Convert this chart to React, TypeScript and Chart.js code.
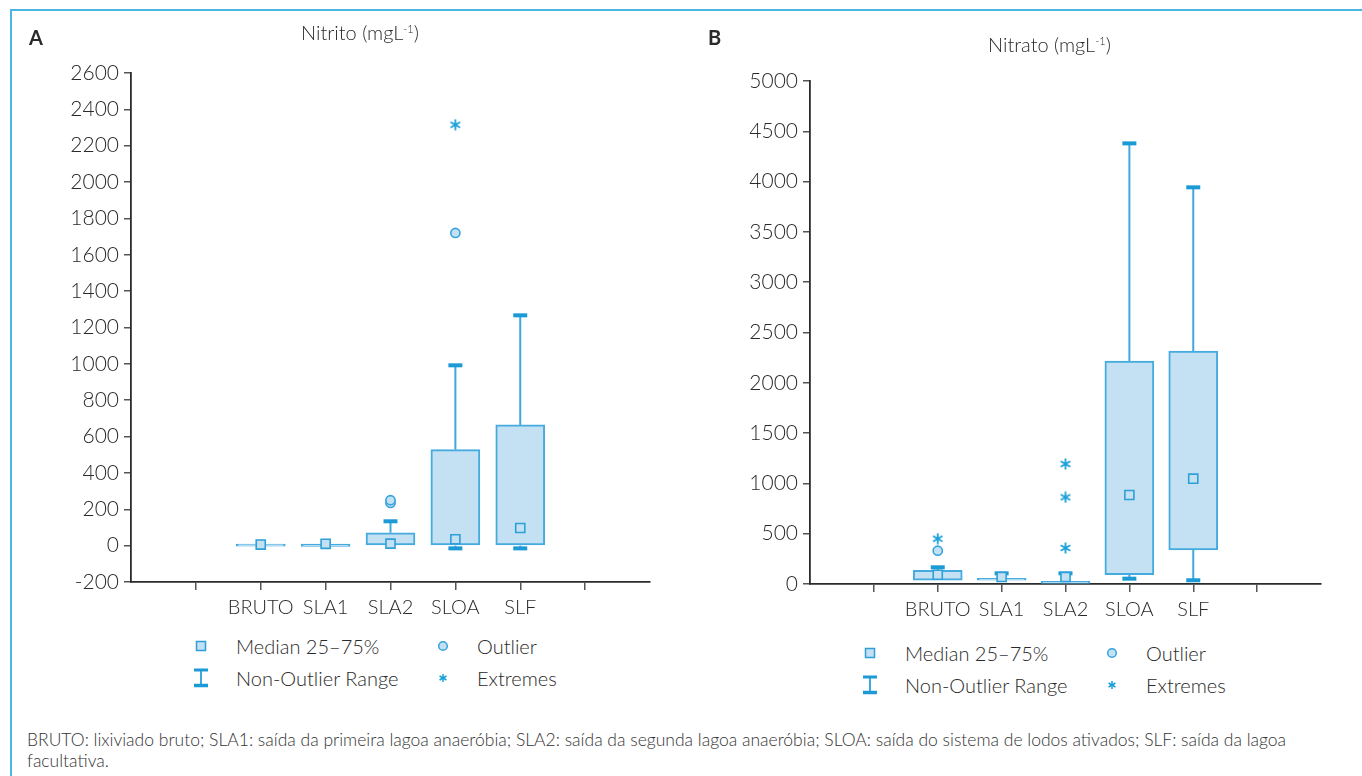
import React, { useEffect, useRef } from 'react';
import { Chart, registerables } from 'chart.js';

Chart.register(...registerables);

// ---------- DATA ----------
const categories = ['BRUTO', 'SLA1', 'SLA2', 'SLOA', 'SLF'];
const leadingSlots = 2;
const trailingSlots = 2;

// Nitrito (mg/L)
const nitritoMin = [-3, -4, 0, -15, -15];
const nitritoQ1 = [-3, -4, 0, 0, 0];
const nitritoMedian = [6, 10, 11, 35, 97];
const nitritoQ3 = [9, 8, 71, 528, 664];
const nitritoMax = [9, 8, 134, 992, 1267];
const nitritoOutliers = [[], [], [235, 250], [1720], []];
const nitritoExtremes = [[], [], [], [2315], []];
const nitritoTicks = { min: -200, max: 2600, step: 200 };

// Nitrato (mg/L)
const nitratoMin = [37, 37, 7, 53, 37];
const nitratoQ1 = [37, 37, 7, 92, 338];
const nitratoMedian = [92, 70, 70, 885, 1047];
const nitratoQ3 = [136, 57, 27, 2217, 2316];
const nitratoMax = [166, 106, 106, 4380, 3943];
const nitratoOutliers = [[331], [], [], [], []];
const nitratoExtremes = [[450], [], [358, 862, 1193], [], []];
const nitratoTicks = { min: 0, max: 5000, step: 500 };

// ---------- STYLE ----------
const FONT = 'Lato, "Open Sans", sans-serif';
const BOX_FILL = '#c4e1f3';
const BOX_BORDER = '#45abdf';
const CAP_COLOR = '#1c9ad6';
const STEM_COLOR = '#3fa9de';
const STAR_COLOR = '#1aa0d8';
const TEXT = '#2a2a2a';

const axisLabels = [
  ...Array(leadingSlots).fill(''),
  ...categories,
  ...Array(trailingSlots).fill(''),
];

function slotArray<T>(values: T[]): (T | null)[] {
  return axisLabels.map((_, i) => {
    const k = i - leadingSlots;
    return k >= 0 && k < values.length ? values[k] : null;
  });
}

function pointsFrom(lists: number[][]) {
  const pts: { x: string; y: number }[] = [];
  lists.forEach((list, k) => list.forEach((v) => pts.push({ x: categories[k], y: v })));
  return pts;
}

function makeStar(size: number, lw: number) {
  const c = document.createElement('canvas');
  c.width = size;
  c.height = size;
  const g = c.getContext('2d')!;
  g.strokeStyle = STAR_COLOR;
  g.lineWidth = lw;
  g.lineCap = 'butt';
  const r = size / 2 - 0.5;
  const cx = size / 2;
  for (let a = 0; a < 3; a++) {
    const ang = Math.PI / 2 + (a * Math.PI) / 3;
    g.beginPath();
    g.moveTo(cx + r * Math.cos(ang), cx + r * Math.sin(ang));
    g.lineTo(cx - r * Math.cos(ang), cx - r * Math.sin(ang));
    g.stroke();
  }
  return c;
}

const whiskerPlugin = {
  id: 'whiskers',
  beforeDatasetsDraw(chart: any, _args: any, opts: any) {
    const { ctx, scales } = chart;
    const x = scales.x;
    const y = scales.y;
    const { min, q1, q3, max } = opts;
    ctx.save();
    for (let k = 0; k < q1.length; k++) {
      const px = x.getPixelForValue(k + leadingSlots);
      const drawStem = (a: number, b: number) => {
        ctx.strokeStyle = STEM_COLOR;
        ctx.lineWidth = 2;
        ctx.beginPath();
        ctx.moveTo(px, y.getPixelForValue(a));
        ctx.lineTo(px, y.getPixelForValue(b));
        ctx.stroke();
      };
      const drawCap = (v: number) => {
        ctx.strokeStyle = CAP_COLOR;
        ctx.lineWidth = 4;
        ctx.beginPath();
        ctx.moveTo(px - 7, y.getPixelForValue(v));
        ctx.lineTo(px + 7, y.getPixelForValue(v));
        ctx.stroke();
      };
      if (max[k] > q3[k]) {
        drawStem(q3[k], max[k]);
        drawCap(max[k]);
      }
      if (min[k] < q1[k]) {
        drawStem(q1[k], min[k]);
        drawCap(min[k]);
      }
    }
    ctx.restore();
  },
};

type Panel = {
  min: number[];
  q1: number[];
  median: number[];
  q3: number[];
  max: number[];
  outliers: number[][];
  extremes: number[][];
  ticks: { min: number; max: number; step: number };
  padTop: number;
  padRight: number;
  yWidth: number;
  xHeight: number;
};

function BoxChart({ panel, style }: { panel: Panel; style: React.CSSProperties }) {
  const ref = useRef<HTMLCanvasElement>(null);
  useEffect(() => {
    const star = makeStar(12, 1.8);
    const chart = new Chart(ref.current!, {
      type: 'bar',
      data: {
        labels: axisLabels,
        datasets: [
          {
            type: 'line',
            data: pointsFrom(panel.extremes) as any,
            showLine: false,
            pointStyle: star as any,
            pointRadius: 6,
            order: 1,
          },
          {
            type: 'line',
            data: pointsFrom(panel.outliers) as any,
            showLine: false,
            pointStyle: 'circle',
            pointRadius: 4.6,
            pointBackgroundColor: BOX_FILL,
            pointBorderColor: '#35a3dc',
            pointBorderWidth: 1.6,
            order: 1,
          },
          {
            type: 'line',
            data: slotArray(panel.median) as any,
            showLine: false,
            pointStyle: 'rect',
            pointRadius: 6.4,
            pointBackgroundColor: BOX_FILL,
            pointBorderColor: '#2e9fd8',
            pointBorderWidth: 1.6,
            order: 2,
          },
          {
            type: 'bar',
            data: slotArray(panel.q1.map((v, i) => [v, panel.q3[i]])) as any,
            backgroundColor: BOX_FILL,
            borderColor: BOX_BORDER,
            borderWidth: 2,
            borderSkipped: false,
            barThickness: 49,
            order: 3,
          },
        ],
      },
      options: {
        animation: false,
        responsive: false,
        maintainAspectRatio: false,
        events: [],
        layout: { padding: { top: panel.padTop, right: panel.padRight, left: 0, bottom: 0 } },
        plugins: {
          legend: { display: false },
          tooltip: { enabled: false },
          whiskers: { min: panel.min, q1: panel.q1, q3: panel.q3, max: panel.max },
        } as any,
        scales: {
          x: {
            type: 'category',
            offset: false,
            grid: {
              offset: false,
              drawOnChartArea: false,
              drawTicks: true,
              tickLength: 8,
              lineWidth: 1.5,
              tickColor: (c: any) =>
                c.index === 0 || c.index === axisLabels.length - 1 ? 'rgba(0,0,0,0)' : '#555',
            },
            border: { display: true, color: '#2b2b2b', width: 1.8 },
            ticks: {
              autoSkip: false,
              maxRotation: 0,
              padding: 6,
              color: TEXT,
              font: { family: FONT, size: 20, weight: '300' as any },
            },
            afterFit: (s: any) => {
              s.height = panel.xHeight;
            },
          },
          y: {
            type: 'linear',
            min: panel.ticks.min,
            max: panel.ticks.max,
            grid: {
              drawOnChartArea: false,
              drawTicks: true,
              tickLength: 7,
              lineWidth: 1.5,
              tickColor: '#555',
            },
            border: { display: true, color: '#2b2b2b', width: 1.8 },
            ticks: {
              stepSize: panel.ticks.step,
              padding: 5,
              color: TEXT,
              font: { family: FONT, size: 21, weight: '300' as any },
              callback: (v: any) => String(v),
            },
            afterFit: (s: any) => {
              s.width = panel.yWidth;
            },
          },
        },
      },
      plugins: [whiskerPlugin],
    });
    return () => chart.destroy();
  }, [panel]);
  return <canvas ref={ref} width={style.width as number} height={style.height as number} style={style} />;
}

const panelA: Panel = {
  min: nitritoMin,
  q1: nitritoQ1,
  median: nitritoMedian,
  q3: nitritoQ3,
  max: nitritoMax,
  outliers: nitritoOutliers,
  extremes: nitritoExtremes,
  ticks: nitritoTicks,
  padTop: 73,
  padRight: 30,
  yWidth: 131,
  xHeight: 38,
};

const panelB: Panel = {
  min: nitratoMin,
  q1: nitratoQ1,
  median: nitratoMedian,
  q3: nitratoQ3,
  max: nitratoMax,
  outliers: nitratoOutliers,
  extremes: nitratoExtremes,
  ticks: nitratoTicks,
  padTop: 81,
  padRight: 41,
  yWidth: 130,
  xHeight: 36,
};

function Txt({ x, cy, children, size = 20, weight = 300 }: any) {
  return (
    <div
      style={{
        position: 'absolute',
        left: x,
        top: cy - size * 0.62,
        fontSize: size,
        lineHeight: `${size * 1.2}px`,
        fontFamily: FONT,
        fontWeight: weight,
        color: TEXT,
        whiteSpace: 'nowrap',
      }}
    >
      {children}
    </div>
  );
}

function Icon({ cx, cy, kind }: { cx: number; cy: number; kind: string }) {
  const w = 20;
  const h = 22;
  let inner: React.ReactNode = null;
  if (kind === 'median') {
    inner = <rect x={5.5} y={6.5} width={9} height={9} fill={BOX_FILL} stroke="#2e9fd8" strokeWidth={1.5} />;
  } else if (kind === 'range') {
    inner = (
      <g>
        <line x1={10} y1={3} x2={10} y2={19} stroke={STEM_COLOR} strokeWidth={2} />
        <line x1={3} y1={3} x2={17} y2={3} stroke={CAP_COLOR} strokeWidth={3} />
        <line x1={3} y1={18.5} x2={17} y2={18.5} stroke={CAP_COLOR} strokeWidth={3.5} />
      </g>
    );
  } else if (kind === 'outlier') {
    inner = <circle cx={10} cy={11} r={4.3} fill={BOX_FILL} stroke="#35a3dc" strokeWidth={1.5} />;
  } else {
    const lines = [0, 1, 2].map((a) => {
      const ang = Math.PI / 2 + (a * Math.PI) / 3;
      const r = 4;
      return (
        <line
          key={a}
          x1={10 + r * Math.cos(ang)}
          y1={11 + r * Math.sin(ang)}
          x2={10 - r * Math.cos(ang)}
          y2={11 - r * Math.sin(ang)}
          stroke={STAR_COLOR}
          strokeWidth={1.5}
        />
      );
    });
    inner = <g>{lines}</g>;
  }
  return (
    <svg width={w} height={h} style={{ position: 'absolute', left: cx - w / 2, top: cy - h / 2 }}>
      {inner}
    </svg>
  );
}

function Legend({ x0, y0, x1, y1 }: { x0: number; y0: number; x1: number; y1: number }) {
  return (
    <>
      <Icon cx={x0} cy={y0} kind="median" />
      <Txt x={x0 + 35} cy={y0}>Median 25–75%</Txt>
      <Icon cx={x0} cy={y1} kind="range" />
      <Txt x={x0 + 35} cy={y1}>Non-Outlier Range</Txt>
      <Icon cx={x1} cy={y0} kind="outlier" />
      <Txt x={x1 + 34} cy={y0}>Outlier</Txt>
      <Icon cx={x1} cy={y1} kind="extreme" />
      <Txt x={x1 + 34} cy={y1}>Extremes</Txt>
    </>
  );
}

export default function App() {
  return (
    <div
      style={{
        position: 'absolute',
        left: 0,
        top: 0,
        width: 1362,
        height: 776,
        background: '#fff',
        overflow: 'hidden',
        fontFamily: FONT,
      }}
    >
      <div
        style={{
          position: 'absolute',
          left: 10,
          top: 9,
          width: 1400,
          height: 800,
          borderTop: '2px solid #4cb6e2',
          borderLeft: '2px solid #4cb6e2',
        }}
      />
      <BoxChart panel={panelA} style={{ position: 'absolute', left: 0, top: 0, width: 680, height: 620 }} />
      <BoxChart panel={panelB} style={{ position: 'absolute', left: 680, top: 0, width: 682, height: 620 }} />

      <Txt x={29} cy={37} weight={700}>A</Txt>
      <Txt x={708} cy={37} weight={700}>B</Txt>
      <Txt x={301} cy={32}>
        Nitrito (mgL<sup style={{ fontSize: 11, verticalAlign: 'top', position: 'relative', top: -3 }}>-1</sup>)
      </Txt>
      <Txt x={988} cy={44}>
        Nitrato (mgL<sup style={{ fontSize: 11, verticalAlign: 'top', position: 'relative', top: -3 }}>-1</sup>)
      </Txt>

      <Legend x0={201} y0={646} x1={443} y1={678} />
      <Legend x0={870} y0={653} x1={1112} y1={685} />

      <div
        style={{
          position: 'absolute',
          left: 27,
          top: 729,
          fontSize: 17.5,
          lineHeight: '21px',
          fontFamily: FONT,
          fontWeight: 300,
          color: '#333',
          whiteSpace: 'nowrap',
        }}
      >
        BRUTO: lixiviado bruto; SLA1: saída da primeira lagoa anaeróbia; SLA2: saída da segunda lagoa anaeróbia; SLOA:
        saída do sistema de lodos ativados; SLF: saída da lagoa
        <br />
        facultativa.
      </div>
    </div>
  );
}
